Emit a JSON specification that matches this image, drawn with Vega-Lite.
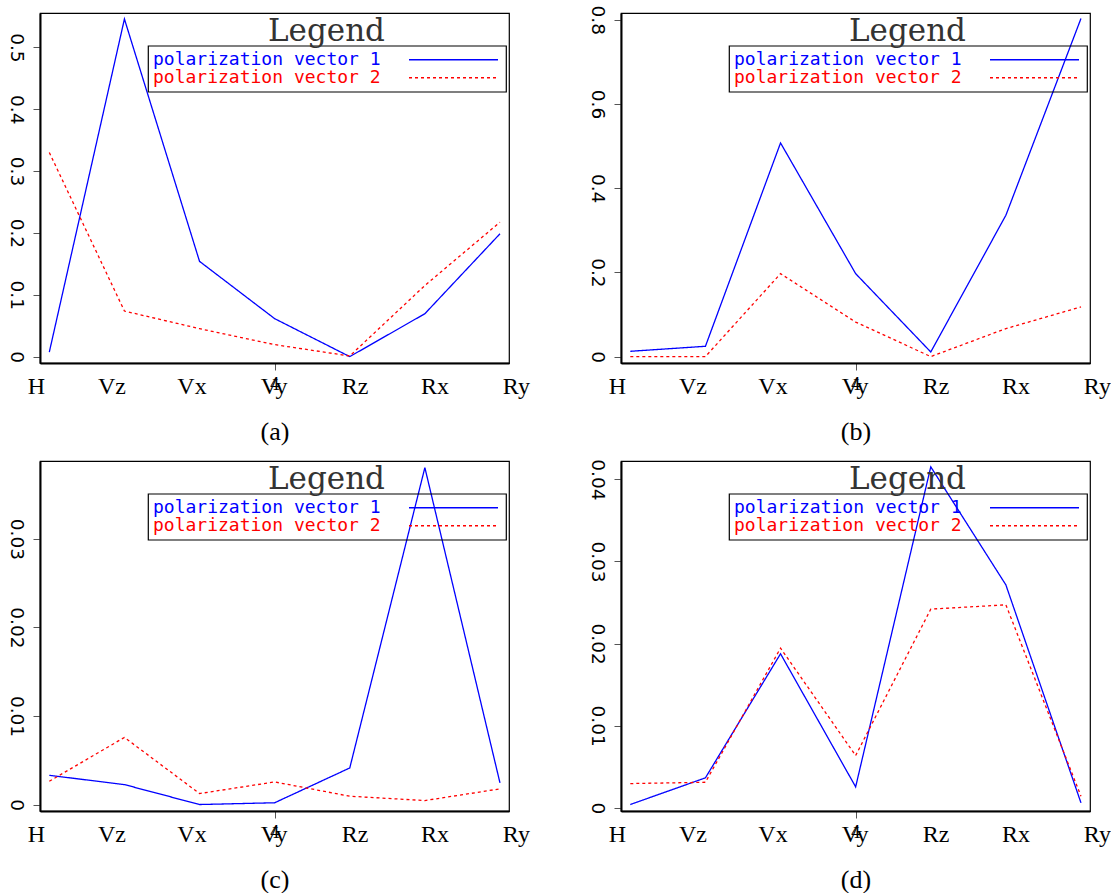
{
  "$schema": "https://vega.github.io/schema/vega-lite/v6.json",
  "padding": {"left": 5, "top": 4, "right": 0, "bottom": 0},
  "background": "white",
  "datasets": {
    "a": [
      {"component": "H", "idx": 1, "series": "polarization vector 1", "value": 0.0074},
      {"component": "Vz", "idx": 2, "series": "polarization vector 1", "value": 0.5458},
      {"component": "Vx", "idx": 3, "series": "polarization vector 1", "value": 0.154},
      {"component": "Vy", "idx": 4, "series": "polarization vector 1", "value": 0.0614},
      {"component": "Rz", "idx": 5, "series": "polarization vector 1", "value": 0.0},
      {"component": "Rx", "idx": 6, "series": "polarization vector 1", "value": 0.0694},
      {"component": "Ry", "idx": 7, "series": "polarization vector 1", "value": 0.1986},
      {"component": "H", "idx": 1, "series": "polarization vector 2", "value": 0.33},
      {"component": "Vz", "idx": 2, "series": "polarization vector 2", "value": 0.0737},
      {"component": "Vx", "idx": 3, "series": "polarization vector 2", "value": 0.0452},
      {"component": "Vy", "idx": 4, "series": "polarization vector 2", "value": 0.0194},
      {"component": "Rz", "idx": 5, "series": "polarization vector 2", "value": 0.001},
      {"component": "Rx", "idx": 6, "series": "polarization vector 2", "value": 0.115},
      {"component": "Ry", "idx": 7, "series": "polarization vector 2", "value": 0.2174}
    ],
    "b": [
      {"component": "H", "idx": 1, "series": "polarization vector 1", "value": 0.0126},
      {"component": "Vz", "idx": 2, "series": "polarization vector 1", "value": 0.0245},
      {"component": "Vx", "idx": 3, "series": "polarization vector 1", "value": 0.5074},
      {"component": "Vy", "idx": 4, "series": "polarization vector 1", "value": 0.197},
      {"component": "Rz", "idx": 5, "series": "polarization vector 1", "value": 0.011},
      {"component": "Rx", "idx": 6, "series": "polarization vector 1", "value": 0.3356},
      {"component": "Ry", "idx": 7, "series": "polarization vector 1", "value": 0.803},
      {"component": "H", "idx": 1, "series": "polarization vector 2", "value": 0.0},
      {"component": "Vz", "idx": 2, "series": "polarization vector 2", "value": 0.0},
      {"component": "Vx", "idx": 3, "series": "polarization vector 2", "value": 0.197},
      {"component": "Vy", "idx": 4, "series": "polarization vector 2", "value": 0.082},
      {"component": "Rz", "idx": 5, "series": "polarization vector 2", "value": 0.0},
      {"component": "Rx", "idx": 6, "series": "polarization vector 2", "value": 0.0665},
      {"component": "Ry", "idx": 7, "series": "polarization vector 2", "value": 0.118}
    ],
    "c": [
      {"component": "H", "idx": 1, "series": "polarization vector 1", "value": 0.0033},
      {"component": "Vz", "idx": 2, "series": "polarization vector 1", "value": 0.00225},
      {"component": "Vx", "idx": 3, "series": "polarization vector 1", "value": 0.0},
      {"component": "Vy", "idx": 4, "series": "polarization vector 1", "value": 0.0002},
      {"component": "Rz", "idx": 5, "series": "polarization vector 1", "value": 0.00413},
      {"component": "Rx", "idx": 6, "series": "polarization vector 1", "value": 0.03804},
      {"component": "Ry", "idx": 7, "series": "polarization vector 1", "value": 0.00244},
      {"component": "H", "idx": 1, "series": "polarization vector 2", "value": 0.00263},
      {"component": "Vz", "idx": 2, "series": "polarization vector 2", "value": 0.00758},
      {"component": "Vx", "idx": 3, "series": "polarization vector 2", "value": 0.00124},
      {"component": "Vy", "idx": 4, "series": "polarization vector 2", "value": 0.00255},
      {"component": "Rz", "idx": 5, "series": "polarization vector 2", "value": 0.00094},
      {"component": "Rx", "idx": 6, "series": "polarization vector 2", "value": 0.00045},
      {"component": "Ry", "idx": 7, "series": "polarization vector 2", "value": 0.00177}
    ],
    "d": [
      {"component": "H", "idx": 1, "series": "polarization vector 1", "value": 0.0004},
      {"component": "Vz", "idx": 2, "series": "polarization vector 1", "value": 0.00365},
      {"component": "Vx", "idx": 3, "series": "polarization vector 1", "value": 0.01876},
      {"component": "Vy", "idx": 4, "series": "polarization vector 1", "value": 0.00255},
      {"component": "Rz", "idx": 5, "series": "polarization vector 1", "value": 0.04153},
      {"component": "Rx", "idx": 6, "series": "polarization vector 1", "value": 0.02715},
      {"component": "Ry", "idx": 7, "series": "polarization vector 1", "value": 0.0006},
      {"component": "H", "idx": 1, "series": "polarization vector 2", "value": 0.00295},
      {"component": "Vz", "idx": 2, "series": "polarization vector 2", "value": 0.00311},
      {"component": "Vx", "idx": 3, "series": "polarization vector 2", "value": 0.01945},
      {"component": "Vy", "idx": 4, "series": "polarization vector 2", "value": 0.00636},
      {"component": "Rz", "idx": 5, "series": "polarization vector 2", "value": 0.0242},
      {"component": "Rx", "idx": 6, "series": "polarization vector 2", "value": 0.02472},
      {"component": "Ry", "idx": 7, "series": "polarization vector 2", "value": 0.00141}
    ]
  },
  "columns": 2,
  "spacing": {"row": 98, "column": 112},
  "bounds": "flush",
  "concat": [
    {
      "width": 469, "height": 350,
      "title": {"text": "Legend", "frame": "group", "anchor": "middle", "dx": 52, "offset": -59.4, "font": "DejaVu Serif", "fontSize": 31, "fontWeight": "normal", "color": "#333333", "baseline": "alphabetic"},
      "data": {"name": "a"},
      "layer": [
        {
          "mark": {"type": "line", "strokeWidth": 1.3},
          "encoding": {
            "x": {"field": "idx", "type": "quantitative", "scale": {"domain": [0.876, 7.12], "nice": false, "zero": false},
                  "axis": {"values": [4], "title": null, "grid": false, "domain": true, "domainColor": "black", "domainWidth": 2, "tickSize": 7, "tickColor": "#555555", "labelFont": "DejaVu Serif", "labelFontSize": 16, "labelPadding": 6, "labelColor": "black", "labelFlush": false}},
            "y": {"field": "value", "type": "quantitative", "scale": {"domain": [-0.0103, 0.5555], "nice": false, "zero": false},
                  "axis": {"values": [0, 0.1, 0.2, 0.3, 0.4, 0.5], "format": "~g", "title": null, "grid": false, "domain": true, "domainColor": "black", "domainWidth": 2, "tickSize": 7, "tickColor": "#555555", "labelFont": "DejaVu Sans", "labelFontSize": 18.5, "labelAngle": 90, "labelAlign": "center", "labelBaseline": "top", "labelPadding": 8, "labelColor": "black", "labelFlush": false, "labelOverlap": false}},
            "color": {"field": "series", "type": "nominal", "scale": {"domain": ["polarization vector 1", "polarization vector 2"], "range": ["#0000ff", "#ff0000"]},
                      "legend": {"title": null, "orient": "none", "legendX": 108, "legendY": 32.7, "padding": 5, "strokeColor": "black", "labelFont": "DejaVu Sans Mono", "labelFontSize": 18, "labelLimit": 500, "rowPadding": 0, "columnPadding": 0, "symbolType": "M247,0H336", "symbolSize": 4, "symbolStrokeWidth": 1.5, "labelOffset": -18, "encode": {"labels": {"update": {"fill": {"signal": "datum.value === 'polarization vector 1' ? '#0000ff' : '#ff0000'"}}}}}},
            "strokeDash": {"field": "series", "type": "nominal", "scale": {"domain": ["polarization vector 1", "polarization vector 2"], "range": [[1, 0], [3, 3]]},
                      "legend": {"title": null, "orient": "none", "legendX": 108, "legendY": 32.7, "padding": 5, "strokeColor": "black", "labelFont": "DejaVu Sans Mono", "labelFontSize": 18, "labelLimit": 500, "rowPadding": 0, "columnPadding": 0, "symbolType": "M247,0H336", "symbolSize": 4, "symbolStrokeWidth": 1.5, "labelOffset": -18, "encode": {"labels": {"update": {"fill": {"signal": "datum.value === 'polarization vector 1' ? '#0000ff' : '#ff0000'"}}}}}}
          }
        },
        {
          "mark": {"type": "point", "opacity": 0},
          "encoding": {
            "x": {"field": "component", "type": "nominal", "scale": {"type": "point", "domain": ["H", "Vz", "Vx", "Vy", "Rz", "Rx", "Ry"], "padding": 0},
                  "axis": {"title": "(a)", "orient": "bottom", "ticks": false, "domain": false, "labelFont": "Liberation Serif", "labelFontSize": 24, "labelPadding": 11, "labelAlign": "right", "labelOffset": {"expr": "4.6 + 15.8 * datum.index"}, "labelAngle": 0, "labelColor": "black", "labelOverlap": false, "labelFlush": false, "titleFont": "Liberation Serif", "titleFontSize": 26, "titleFontWeight": "normal", "titlePadding": 20, "titleColor": "black"}}
          }
        }
      ],
      "resolve": {"scale": {"x": "independent"}, "axis": {"x": "independent"}}
    },
    {
      "width": 469, "height": 350,
      "title": {"text": "Legend", "frame": "group", "anchor": "middle", "dx": 52, "offset": -67.4, "font": "DejaVu Serif", "fontSize": 31, "fontWeight": "normal", "color": "#333333", "baseline": "alphabetic"},
      "data": {"name": "b"},
      "layer": [
        {
          "mark": {"type": "line", "strokeWidth": 1.3},
          "encoding": {
            "x": {"field": "idx", "type": "quantitative", "scale": {"domain": [0.876, 7.12], "nice": false, "zero": false},
                  "axis": {"values": [4], "title": null, "grid": false, "domain": true, "domainColor": "black", "domainWidth": 2, "tickSize": 7, "tickColor": "#555555", "labelFont": "DejaVu Serif", "labelFontSize": 16, "labelPadding": 6, "labelColor": "black", "labelFlush": false}},
            "y": {"field": "value", "type": "quantitative", "scale": {"domain": [-0.0152, 0.816], "nice": false, "zero": false},
                  "axis": {"values": [0, 0.2, 0.4, 0.6, 0.8], "format": "~g", "title": null, "grid": false, "domain": true, "domainColor": "black", "domainWidth": 2, "tickSize": 7, "tickColor": "#555555", "labelFont": "DejaVu Sans", "labelFontSize": 18.5, "labelAngle": 90, "labelAlign": "center", "labelBaseline": "top", "labelPadding": 8, "labelColor": "black", "labelFlush": false, "labelOverlap": false}},
            "color": {"field": "series", "type": "nominal", "scale": {"domain": ["polarization vector 1", "polarization vector 2"], "range": ["#0000ff", "#ff0000"]},
                      "legend": {"title": null, "orient": "none", "legendX": 108, "legendY": 32.7, "padding": 5, "strokeColor": "black", "labelFont": "DejaVu Sans Mono", "labelFontSize": 18, "labelLimit": 500, "rowPadding": 0, "columnPadding": 0, "symbolType": "M247,0H336", "symbolSize": 4, "symbolStrokeWidth": 1.5, "labelOffset": -18, "encode": {"labels": {"update": {"fill": {"signal": "datum.value === 'polarization vector 1' ? '#0000ff' : '#ff0000'"}}}}}},
            "strokeDash": {"field": "series", "type": "nominal", "scale": {"domain": ["polarization vector 1", "polarization vector 2"], "range": [[1, 0], [3, 3]]},
                      "legend": {"title": null, "orient": "none", "legendX": 108, "legendY": 32.7, "padding": 5, "strokeColor": "black", "labelFont": "DejaVu Sans Mono", "labelFontSize": 18, "labelLimit": 500, "rowPadding": 0, "columnPadding": 0, "symbolType": "M247,0H336", "symbolSize": 4, "symbolStrokeWidth": 1.5, "labelOffset": -18, "encode": {"labels": {"update": {"fill": {"signal": "datum.value === 'polarization vector 1' ? '#0000ff' : '#ff0000'"}}}}}}
          }
        },
        {
          "mark": {"type": "point", "opacity": 0},
          "encoding": {
            "x": {"field": "component", "type": "nominal", "scale": {"type": "point", "domain": ["H", "Vz", "Vx", "Vy", "Rz", "Rx", "Ry"], "padding": 0},
                  "axis": {"title": "(b)", "orient": "bottom", "ticks": false, "domain": false, "labelFont": "Liberation Serif", "labelFontSize": 24, "labelPadding": 11, "labelAlign": "right", "labelOffset": {"expr": "4.6 + 15.8 * datum.index"}, "labelAngle": 0, "labelColor": "black", "labelOverlap": false, "labelFlush": false, "titleFont": "Liberation Serif", "titleFontSize": 26, "titleFontWeight": "normal", "titlePadding": 20, "titleColor": "black"}}
          }
        }
      ],
      "resolve": {"scale": {"x": "independent"}, "axis": {"x": "independent"}}
    },
    {
      "width": 469, "height": 350,
      "title": {"text": "Legend", "frame": "group", "anchor": "middle", "dx": 52, "offset": -59.4, "font": "DejaVu Serif", "fontSize": 31, "fontWeight": "normal", "color": "#333333", "baseline": "alphabetic"},
      "data": {"name": "c"},
      "layer": [
        {
          "mark": {"type": "line", "strokeWidth": 1.3},
          "encoding": {
            "x": {"field": "idx", "type": "quantitative", "scale": {"domain": [0.876, 7.12], "nice": false, "zero": false},
                  "axis": {"values": [4], "title": null, "grid": false, "domain": true, "domainColor": "black", "domainWidth": 2, "tickSize": 7, "tickColor": "#555555", "labelFont": "DejaVu Serif", "labelFontSize": 16, "labelPadding": 6, "labelColor": "black", "labelFlush": false}},
            "y": {"field": "value", "type": "quantitative", "scale": {"domain": [-0.00073, 0.03879], "nice": false, "zero": false},
                  "axis": {"values": [0, 0.01, 0.02, 0.03], "format": "~g", "title": null, "grid": false, "domain": true, "domainColor": "black", "domainWidth": 2, "tickSize": 7, "tickColor": "#555555", "labelFont": "DejaVu Sans", "labelFontSize": 18.5, "labelAngle": 90, "labelAlign": "center", "labelBaseline": "top", "labelPadding": 8, "labelColor": "black", "labelFlush": false, "labelOverlap": false}},
            "color": {"field": "series", "type": "nominal", "scale": {"domain": ["polarization vector 1", "polarization vector 2"], "range": ["#0000ff", "#ff0000"]},
                      "legend": {"title": null, "orient": "none", "legendX": 108, "legendY": 32.7, "padding": 5, "strokeColor": "black", "labelFont": "DejaVu Sans Mono", "labelFontSize": 18, "labelLimit": 500, "rowPadding": 0, "columnPadding": 0, "symbolType": "M247,0H336", "symbolSize": 4, "symbolStrokeWidth": 1.5, "labelOffset": -18, "encode": {"labels": {"update": {"fill": {"signal": "datum.value === 'polarization vector 1' ? '#0000ff' : '#ff0000'"}}}}}},
            "strokeDash": {"field": "series", "type": "nominal", "scale": {"domain": ["polarization vector 1", "polarization vector 2"], "range": [[1, 0], [3, 3]]},
                      "legend": {"title": null, "orient": "none", "legendX": 108, "legendY": 32.7, "padding": 5, "strokeColor": "black", "labelFont": "DejaVu Sans Mono", "labelFontSize": 18, "labelLimit": 500, "rowPadding": 0, "columnPadding": 0, "symbolType": "M247,0H336", "symbolSize": 4, "symbolStrokeWidth": 1.5, "labelOffset": -18, "encode": {"labels": {"update": {"fill": {"signal": "datum.value === 'polarization vector 1' ? '#0000ff' : '#ff0000'"}}}}}}
          }
        },
        {
          "mark": {"type": "point", "opacity": 0},
          "encoding": {
            "x": {"field": "component", "type": "nominal", "scale": {"type": "point", "domain": ["H", "Vz", "Vx", "Vy", "Rz", "Rx", "Ry"], "padding": 0},
                  "axis": {"title": "(c)", "orient": "bottom", "ticks": false, "domain": false, "labelFont": "Liberation Serif", "labelFontSize": 24, "labelPadding": 11, "labelAlign": "right", "labelOffset": {"expr": "4.6 + 15.8 * datum.index"}, "labelAngle": 0, "labelColor": "black", "labelOverlap": false, "labelFlush": false, "titleFont": "Liberation Serif", "titleFontSize": 26, "titleFontWeight": "normal", "titlePadding": 20, "titleColor": "black"}}
          }
        }
      ],
      "resolve": {"scale": {"x": "independent"}, "axis": {"x": "independent"}}
    },
    {
      "width": 469, "height": 350,
      "title": {"text": "Legend", "frame": "group", "anchor": "middle", "dx": 52, "offset": -61.7, "font": "DejaVu Serif", "fontSize": 31, "fontWeight": "normal", "color": "#333333", "baseline": "alphabetic"},
      "data": {"name": "d"},
      "layer": [
        {
          "mark": {"type": "line", "strokeWidth": 1.3},
          "encoding": {
            "x": {"field": "idx", "type": "quantitative", "scale": {"domain": [0.876, 7.12], "nice": false, "zero": false},
                  "axis": {"values": [4], "title": null, "grid": false, "domain": true, "domainColor": "black", "domainWidth": 2, "tickSize": 7, "tickColor": "#555555", "labelFont": "DejaVu Serif", "labelFontSize": 16, "labelPadding": 6, "labelColor": "black", "labelFlush": false}},
            "y": {"field": "value", "type": "quantitative", "scale": {"domain": [-0.00039, 0.04224], "nice": false, "zero": false},
                  "axis": {"values": [0, 0.01, 0.02, 0.03, 0.04], "format": "~g", "title": null, "grid": false, "domain": true, "domainColor": "black", "domainWidth": 2, "tickSize": 7, "tickColor": "#555555", "labelFont": "DejaVu Sans", "labelFontSize": 18.5, "labelAngle": 90, "labelAlign": "center", "labelBaseline": "top", "labelPadding": 8, "labelColor": "black", "labelFlush": false, "labelOverlap": false}},
            "color": {"field": "series", "type": "nominal", "scale": {"domain": ["polarization vector 1", "polarization vector 2"], "range": ["#0000ff", "#ff0000"]},
                      "legend": {"title": null, "orient": "none", "legendX": 108, "legendY": 32.7, "padding": 5, "strokeColor": "black", "labelFont": "DejaVu Sans Mono", "labelFontSize": 18, "labelLimit": 500, "rowPadding": 0, "columnPadding": 0, "symbolType": "M247,0H336", "symbolSize": 4, "symbolStrokeWidth": 1.5, "labelOffset": -18, "encode": {"labels": {"update": {"fill": {"signal": "datum.value === 'polarization vector 1' ? '#0000ff' : '#ff0000'"}}}}}},
            "strokeDash": {"field": "series", "type": "nominal", "scale": {"domain": ["polarization vector 1", "polarization vector 2"], "range": [[1, 0], [3, 3]]},
                      "legend": {"title": null, "orient": "none", "legendX": 108, "legendY": 32.7, "padding": 5, "strokeColor": "black", "labelFont": "DejaVu Sans Mono", "labelFontSize": 18, "labelLimit": 500, "rowPadding": 0, "columnPadding": 0, "symbolType": "M247,0H336", "symbolSize": 4, "symbolStrokeWidth": 1.5, "labelOffset": -18, "encode": {"labels": {"update": {"fill": {"signal": "datum.value === 'polarization vector 1' ? '#0000ff' : '#ff0000'"}}}}}}
          }
        },
        {
          "mark": {"type": "point", "opacity": 0},
          "encoding": {
            "x": {"field": "component", "type": "nominal", "scale": {"type": "point", "domain": ["H", "Vz", "Vx", "Vy", "Rz", "Rx", "Ry"], "padding": 0},
                  "axis": {"title": "(d)", "orient": "bottom", "ticks": false, "domain": false, "labelFont": "Liberation Serif", "labelFontSize": 24, "labelPadding": 11, "labelAlign": "right", "labelOffset": {"expr": "4.6 + 15.8 * datum.index"}, "labelAngle": 0, "labelColor": "black", "labelOverlap": false, "labelFlush": false, "titleFont": "Liberation Serif", "titleFontSize": 26, "titleFontWeight": "normal", "titlePadding": 20, "titleColor": "black"}}
          }
        }
      ],
      "resolve": {"scale": {"x": "independent"}, "axis": {"x": "independent"}}
    }
  ],
  "resolve": {"scale": {"color": "independent", "strokeDash": "independent"}, "legend": {"color": "independent", "strokeDash": "independent"}},
  "config": {
    "view": {"stroke": "black", "strokeWidth": 1.2},
    "legend": {"strokeWidth": 1.2}
  }
}
